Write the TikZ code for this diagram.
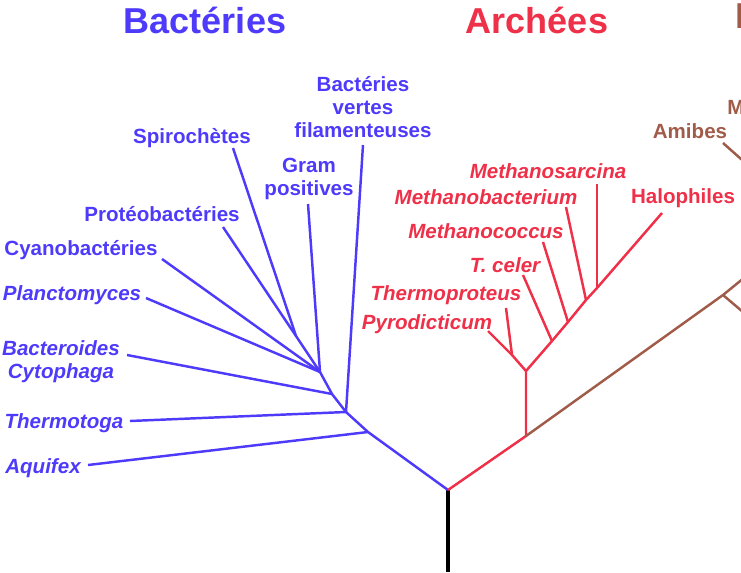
\documentclass[tikz,border=0pt]{standalone}
\usepackage{fontspec}
\setmainfont{Liberation Sans}
\usetikzlibrary{positioning}
\definecolor{bact}{RGB}{78,58,250}
\definecolor{arch}{RGB}{238,48,72}
\definecolor{euca}{RGB}{160,92,72}
\tikzstyle{title}=[inner sep=0pt,font=\fontsize{20.5}{24}\selectfont\bfseries]
\tikzstyle{lab}=[inner sep=0pt,align=center,font=\fontsize{11.7}{13}\selectfont\bfseries]
\tikzstyle{ilab}=[lab,font=\fontsize{11.7}{13}\selectfont\bfseries\itshape]
\tikzstyle{bbr}=[draw=bact,line width=1.4pt,line join=round]
\tikzstyle{abr}=[draw=arch,line width=1.4pt,line join=round]
\tikzstyle{ebr}=[draw=euca,line width=1.4pt,line join=round]

\begin{document}
\begin{tikzpicture}[x=0.02cm,y=-0.02cm]
\clip (0,0) rectangle (741,572);
% titres
\node (tB) [title, text=bact] at (205,20) {Bactéries};
\node (tA) [title, text=arch] at (537,20) {Archées};
\node (tE) [title, text=euca, anchor=west] at (735,20) {Eucaryotes};
% racine et embranchements
\coordinate (base) at (448,572);
\coordinate (root) at (448,490);
\coordinate (jA) at (368,432);
\coordinate (jT) at (346,412);
\coordinate (jB) at (332,394);
\coordinate (jG) at (320,372);
\coordinate (jS) at (296,336);
\coordinate (jR) at (526,436);
\coordinate (jR2) at (526,371);
\coordinate (jP) at (512,355);
\coordinate (jTc) at (552,341);
\coordinate (jMc) at (568,322);
\coordinate (jMb) at (586,300);
\coordinate (jMs) at (597,288);
\coordinate (jE) at (723,295);
% bactéries
\node (spi) [lab, text=bact] at (192,138) {Spirochètes};
\node (ver) [lab, text=bact] at (363,107) {Bactéries\\vertes\\filamenteuses};
\node (gra) [lab, text=bact] at (309,179) {Gram\\positives};
\node (pro) [lab, text=bact] at (162,214) {Protéobactéries};
\node (cya) [lab, text=bact] at (81,250) {Cyanobactéries};
\node (pla) [ilab, text=bact] at (72,295) {Planctomyces};
\node (bac) [ilab, text=bact] at (61,362) {Bacteroides\\Cytophaga};
\node (the) [ilab, text=bact] at (64,423) {Thermotoga};
\node (aqu) [ilab, text=bact] at (43,468) {Aquifex};
\coordinate (eSpi) at (233,148);
\coordinate (eVer) at (363,145);
\coordinate (eGra) at (308,204);
\coordinate (ePro) at (223,227);
\coordinate (eCya) at (162,259);
\coordinate (ePla) at (146,298);
\coordinate (eBac) at (127,355);
\coordinate (eThe) at (130,421);
\coordinate (eAqu) at (88,465);
% archées
\node (msa) [ilab, text=arch] at (548,171) {Methanosarcina};
\node (mba) [ilab, text=arch] at (486,197) {Methanobacterium};
\node (mco) [ilab, text=arch] at (486,231) {Methanococcus};
\node (tce) [ilab, text=arch] at (505,265) {T. celer};
\node (thp) [ilab, text=arch] at (446,295) {Thermoproteus};
\node (pyr) [ilab, text=arch] at (427,324) {Pyrodicticum};
\node (hal) [lab, text=arch] at (683,198) {Halophiles};
\coordinate (eMs) at (597,184);
\coordinate (eMb) at (566,207);
\coordinate (eMc) at (543,242);
\coordinate (eTc) at (523,275);
\coordinate (eThp) at (506,308);
\coordinate (ePyr) at (488,331);
\coordinate (eHal) at (662,213);
% eucaryotes
\node (ami) [lab, text=euca] at (690,131) {Amibes};
\node (moi) [lab, text=euca, anchor=west] at (727,107) {Moisissures};
\coordinate (eAmi) at (723,143);
\coordinate (xAmi) at (750,167);
\coordinate (eE1) at (750,273);
\coordinate (eE2) at (750,318);
% branches
\draw [line width=1.8pt] (base) -- (root);
\draw [bbr] (root) -- (jA) -- (jT) -- (jB) -- (jG) -- (jS) -- (eSpi);
\draw [bbr] (jS) -- (ePro);
\draw [bbr] (jG) -- (eGra);
\draw [bbr] (jG) -- (eCya);
\draw [bbr] (jG) -- (ePla);
\draw [bbr] (jB) -- (eBac);
\draw [bbr] (jT) -- (eThe);
\draw [bbr] (jT) -- (eVer);
\draw [bbr] (jA) -- (eAqu);
\draw [abr] (root) -- (jR) -- (jR2) -- (jTc) -- (jMc) -- (jMb) -- (jMs) -- (eHal);
\draw [abr] (jR2) -- (jP) -- (ePyr);
\draw [abr] (jP) -- (eThp);
\draw [abr] (jTc) -- (eTc);
\draw [abr] (jMc) -- (eMc);
\draw [abr] (jMb) -- (eMb);
\draw [abr] (jMs) -- (eMs);
\draw [ebr] (jR) -- (jE) -- (eE1);
\draw [ebr] (jE) -- (eE2);
\draw [ebr] (eAmi) -- (xAmi);
\end{tikzpicture}
\end{document}
